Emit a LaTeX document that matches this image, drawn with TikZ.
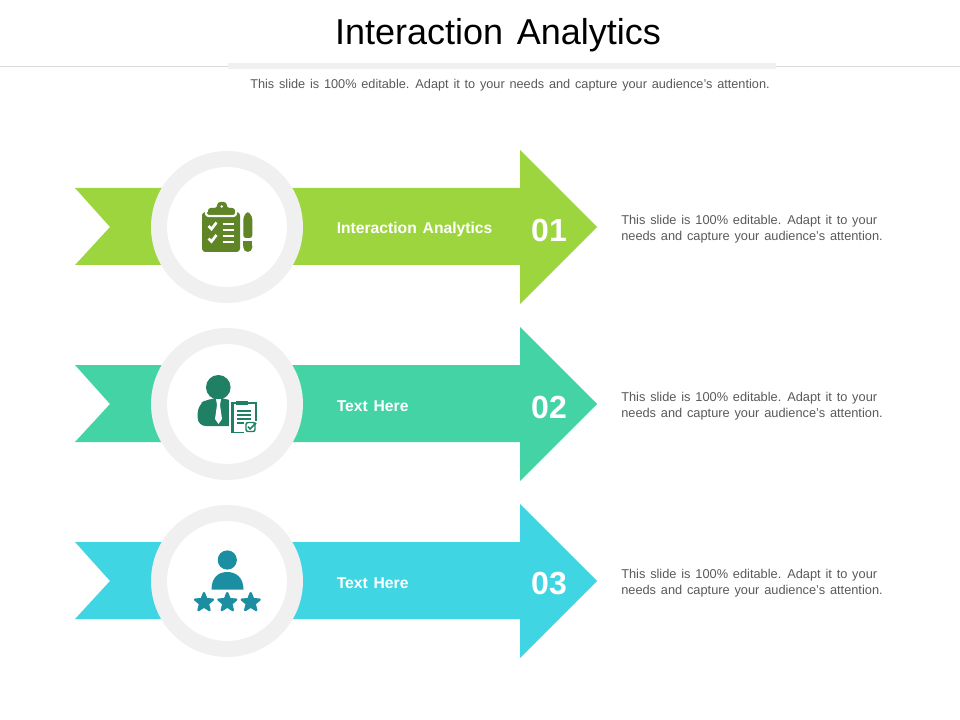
\documentclass[tikz,border=0pt]{standalone}
\usepackage{fontspec}
\setmainfont{Liberation Sans}[WordSpace=1.35]
\usetikzlibrary{shapes.geometric}
\definecolor{limeband}{HTML}{9DD53F}
\definecolor{mintband}{HTML}{43D3A4}
\definecolor{cyanband}{HTML}{3FD5E3}
\definecolor{limeicon}{HTML}{5F8526}
\definecolor{minticon}{HTML}{1F8063}
\definecolor{cyanicon}{HTML}{1B8FA1}
\definecolor{ringgray}{HTML}{F0F0F0}
\definecolor{bodygray}{HTML}{595959}
\tikzset{
  ribbon/.style={fill=#1,draw=none},
  ring/.style={circle,draw=ringgray,line width=12pt,fill=white,minimum size=102pt,inner sep=0pt},
  bandlabel/.style={anchor=west,inner sep=0pt,text=white,font=\fontsize{11.75}{14}\selectfont\bfseries},
  bandnum/.style={anchor=center,inner sep=0pt,text=white,font=\fontsize{24}{28}\selectfont\bfseries},
  sidetext/.style={anchor=west,inner sep=0pt,align=left,text=bodygray,font=\fontsize{9.6}{12}\selectfont},
  cutline/.style={draw=white,line width=1.6pt},
  starmark/.style={star,star points=5,star point ratio=2.3,fill=cyanicon,draw=cyanicon,
    line width=1.8pt,line join=round,minimum size=14pt,inner sep=0pt}
}
\begin{document}
\begin{tikzpicture}[x=.75pt,y=-.75pt]
  \useasboundingbox (0,0) rectangle (960,720);
  % header
  \draw[gray!30,very thin] (0,66.5) -- (960,66.5);
  \fill[ringgray] (228,63.5) rectangle (776,69.5);
  \node[inner sep=0pt,font=\fontsize{27}{32}\selectfont] (title) at (498,35.5) {Interaction Analytics};
  \node[inner sep=0pt,text=bodygray,font=\fontsize{9.55}{12}\selectfont] (subtitle) at (510,85)
    {This slide is 100\% editable. Adapt it to your needs and capture your audience's attention.};
  % rows
  \foreach \y/\col/\lab/\num in {227/limeband/Interaction Analytics/01,404/mintband/Text Here/02,581/cyanband/Text Here/03} {
    \fill[ribbon=\col] (75,\y-39) -- (520,\y-39) -- (520,\y-77) -- (597,\y) -- (520,\y+77)
      -- (520,\y+38) -- (75,\y+38) -- (110,\y) -- cycle;
    \node[ring] (circle\num) at (227,\y) {};
    \node[bandlabel] (label\num) at (336.5,\y+2.5) {\lab};
    \node[bandnum] (num\num) at (549,\y+3) {\num};
    \node[sidetext] (side\num) at (621,\y+2.5) {This slide is 100\% editable. Adapt it to your\\needs and capture your audience's attention.};
  }
  % clipboard and pencil
  \fill[limeicon,rounded corners=2.5pt] (202,212) rectangle (240,252);
  \draw[cutline,rounded corners=2pt] (206,211) -- (206,216) -- (236,216) -- (236,211);
  \fill[white] (204,208) rectangle (238,212);
  \fill[limeicon,rounded corners=2pt] (208,214.5) -- (208,208) -- (217,208) -- (217.5,202) -- (226.5,202) -- (227,208) -- (235,208) -- (235,214.5) -- cycle;
  \fill[white] (221.7,206.5) circle (1.3);
  \foreach \ly in {224,230,236,241.7}
    \draw[cutline] (222.7,\ly) -- (234.3,\ly);
  \foreach \ly in {226,238.5}
    \draw[cutline,line width=2pt] (208.5,\ly) -- (211.5,\ly+3) -- (216.5,\ly-3.5);
  \fill[limeicon,rounded corners=2pt] (243.3,238) -- (243.3,217) -- (247.8,211) -- (252.3,217) -- (252.3,238) -- cycle;
  \fill[limeicon,rounded corners=3.5pt] (243.3,241.5) -- (252.3,241.5) -- (252.3,252) -- (243.3,252) -- cycle;
  \fill[limeicon] (243.3,241.5) rectangle (252.3,246);
  % manager with clipboard
  \fill[minticon] (218.3,387.3) circle (12.3);
  \fill[minticon,rounded corners=6pt] (197.7,426) -- (197.7,405) -- (208,398.5) -- (229,398.5) -- (239,405) -- (239,426) -- cycle;
  \fill[white] (216,399) -- (221,399) -- (220,405) -- (222,419) -- (218.5,424) -- (215,419) -- (217,405) -- cycle;
  \fill[white] (229,399) rectangle (258,435);
  \draw[minticon,line width=1.3pt] (232,403) rectangle (256,432.5);
  \fill[minticon] (230.5,403) rectangle (233.5,433);
  \fill[minticon] (236,400.5) rectangle (248,405);
  \foreach \ly in {411,415,419,423}
    \draw[minticon,line width=.9pt] (237,\ly) -- (251,\ly);
  \fill[white] (244,420.5) rectangle (258,434);
  \draw[minticon,line width=1.1pt,rounded corners=1.5pt] (246,422.5) rectangle (255,431.5);
  \draw[minticon,line width=1.1pt] (248,426.5) -- (250,429) -- (256,423);
  % person with stars
  \fill[cyanicon] (227.3,560) circle (9.6);
  \fill[cyanicon] (211.5,589.5) .. controls (211.5,578) and (218,572) .. (227.3,572)
    .. controls (236.5,572) and (243.5,578) .. (243.5,589.5) -- cycle;
  \foreach \sx in {204,227.3,250.7}
    \node[starmark] (star\sx) at (\sx,602.5) {};
\end{tikzpicture}
\end{document}
